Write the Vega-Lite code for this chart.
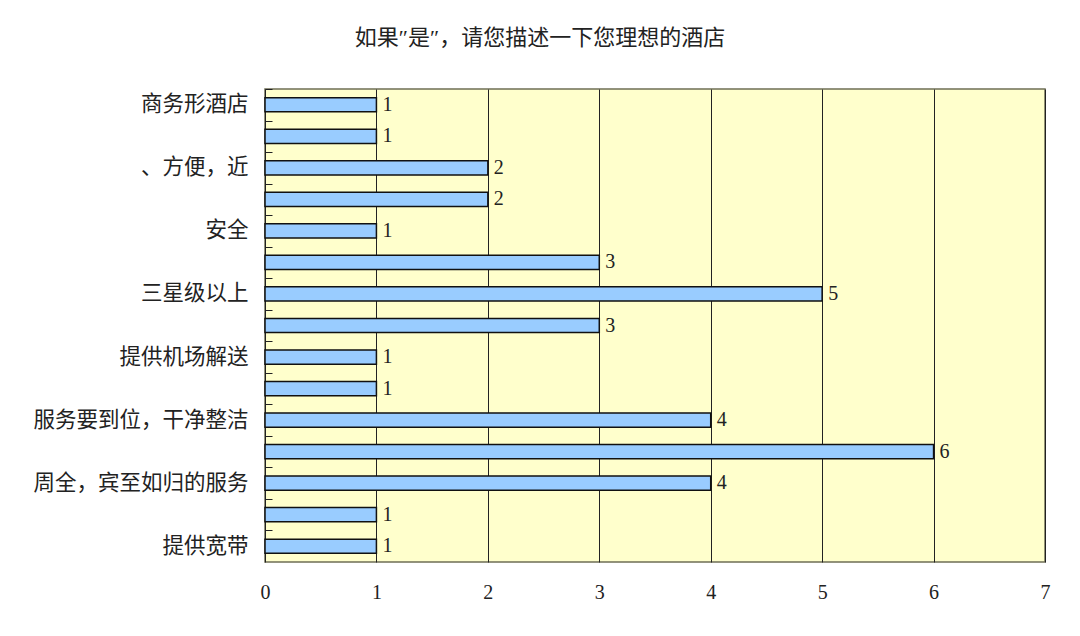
{
  "$schema": "https://vega.github.io/schema/vega-lite/v6.json",
  "autosize": "none",
  "width": 780,
  "height": 473,
  "padding": {"left": 265, "top": 89, "right": 35, "bottom": 74},
  "background": "white",
  "title": {
    "text": "如果″是″，请您描述一下您理想的酒店",
    "anchor": "middle",
    "dx": -115,
    "offset": 39,
    "font": "Liberation Serif, Noto Sans CJK SC",
    "fontSize": 22,
    "fontWeight": "normal",
    "color": "#222222"
  },
  "config": {
    "view": {"fill": "#FFFFCC", "stroke": "#6f6f55", "strokeWidth": 1.5},
    "font": "Liberation Serif, Noto Sans CJK SC"
  },
  "data": {
    "values": [
      {"cat": "商务形酒店", "count": 1},
      {"cat": " ", "count": 1},
      {"cat": "、方便，近", "count": 2},
      {"cat": "  ", "count": 2},
      {"cat": "安全", "count": 1},
      {"cat": "   ", "count": 3},
      {"cat": "三星级以上", "count": 5},
      {"cat": "    ", "count": 3},
      {"cat": "提供机场解送", "count": 1},
      {"cat": "     ", "count": 1},
      {"cat": "服务要到位，干净整洁", "count": 4},
      {"cat": "      ", "count": 6},
      {"cat": "周全，宾至如归的服务", "count": 4},
      {"cat": "       ", "count": 1},
      {"cat": "提供宽带", "count": 1}
    ]
  },
  "encoding": {
    "y": {
      "field": "cat",
      "type": "nominal",
      "sort": null,
      "scale": {"paddingInner": 0.55, "paddingOuter": 0.275},
      "axis": {
        "title": null,
        "domain": false,
        "ticks": true,
        "tickSize": -7,
        "tickColor": "#222222",
        "tickOffset": -15.77,
        "labelOffset": 15.77,
        "labelPadding": 24,
        "labelLimit": 400,
        "labelFontSize": 21.5,
        "labelColor": "#222222",
        "labelFont": "Liberation Serif, Noto Sans CJK SC"
      }
    },
    "x": {
      "field": "count",
      "type": "quantitative",
      "scale": {"domain": [0, 7], "nice": false},
      "axis": {
        "title": null,
        "values": [0, 1, 2, 3, 4, 5, 6, 7],
        "domain": false,
        "ticks": false,
        "grid": true,
        "gridColor": "#222222",
        "gridWidth": 1,
        "gridOpacity": 1,
        "labelFlush": false,
        "labelPadding": 20,
        "labelFontSize": 20,
        "labelColor": "#222222",
        "labelFont": "Liberation Serif"
      }
    }
  },
  "layer": [
    {
      "mark": {"type": "bar", "fill": "#99CCFF", "stroke": "#111111", "strokeWidth": 1.5}
    },
    {
      "mark": {"type": "text", "align": "left", "baseline": "middle", "dx": 6, "fontSize": 20, "font": "Liberation Serif", "color": "#222222"},
      "encoding": {"text": {"field": "count", "type": "quantitative"}}
    }
  ]
}
